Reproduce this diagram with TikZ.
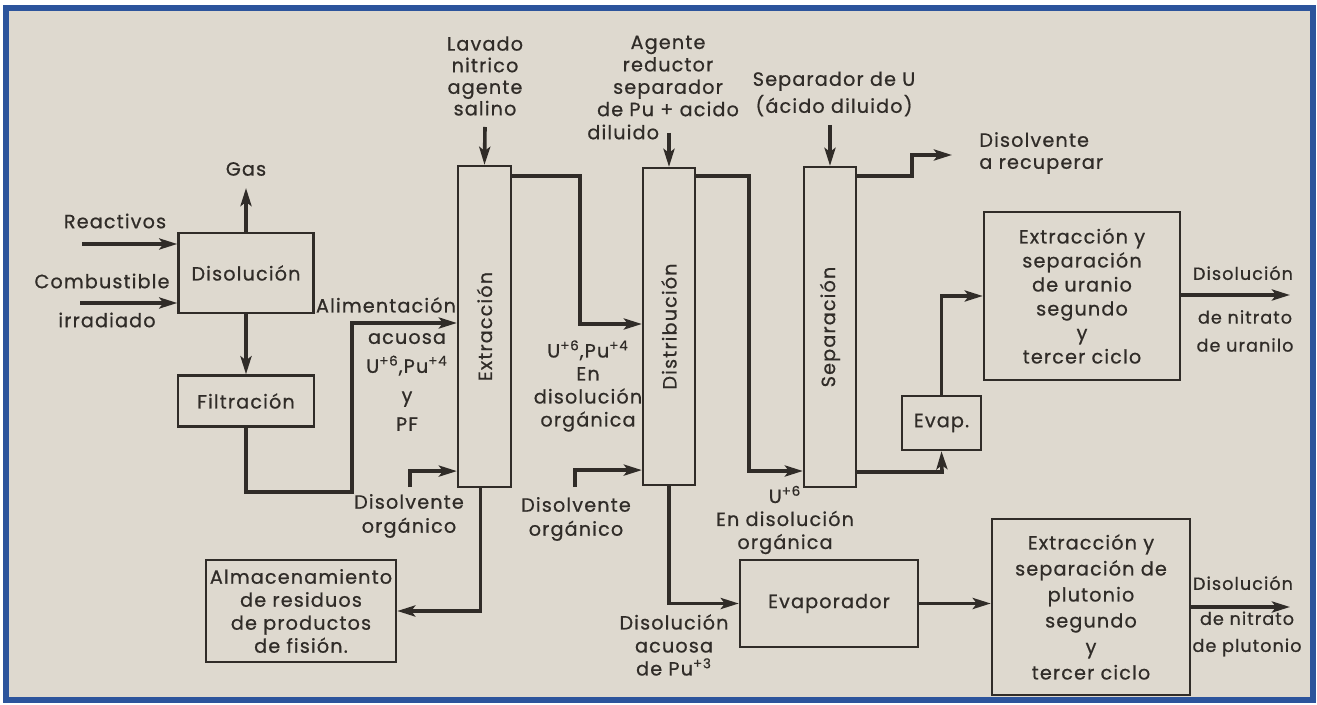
\documentclass[tikz,border=0pt]{standalone}
\usepackage{fontspec}
\setmainfont{Poppins}[LetterSpace=6,FakeBold=0.7]
\usetikzlibrary{arrows.meta}
\definecolor{ink}{RGB}{48,44,40}
\definecolor{paper}{RGB}{222,217,207}
\definecolor{frame}{RGB}{44,84,156}

\begin{document}
\begin{tikzpicture}[x=0.5pt,y=-0.5pt,
		txt/.style={text=ink,font=\fontsize{9.6}{11}\selectfont,align=center,inner sep=0pt},
		box/.style={draw=ink,line width=1.2pt,rectangle,inner sep=0pt,txt},
		col/.style={draw=ink,line width=1.1pt,rectangle,inner sep=0pt},
		flow/.style={draw=ink,line width=1.8pt,-{Stealth[length=9pt,width=5.5pt,inset=2pt]}}]
			%%%%% START %%%%%
			
			\useasboundingbox (0,0) rectangle (1317,705);
			\fill[white] (0,0) rectangle (1317,705);
			\fill[paper] (6,8) rectangle (1313,700);
			\draw[frame,line width=3pt] (6,8) rectangle (1313,700);
			
			% process boxes
			\node[box,minimum width=67.5pt,minimum height=40pt] (disol) at (246,273) {Disolución};
			\node[box,minimum width=68pt,minimum height=25.5pt] (filtr) at (246,401) {Filtración};
			\node[box,minimum width=95pt,minimum height=51pt,font=\fontsize{9.6}{11.5}\selectfont] (almac) at (301,611) {Almacenamiento\\de residuos\\de productos\\de fisión.};
			
			\node[col,minimum width=26.5pt,minimum height=160.5pt] (extr) at (484.5,326.5) {};
			\node[txt,rotate=90] (extrL) at (extr) {Extracción};
			\node[col,minimum width=26pt,minimum height=158.5pt] (dist) at (669,326.5) {};
			\node[txt,rotate=90] (distL) at (dist) {Distribución};
			\node[col,minimum width=26pt,minimum height=160pt] (sep) at (830,327) {};
			\node[txt,rotate=90] (sepL) at (sep) {Separación};
			
			\node[box,minimum width=39.5pt,minimum height=27pt] (evap) at (941.5,423) {Evap.};
			\node[box,minimum width=89pt,minimum height=43.5pt] (evapr) at (829,603.5) {Evaporador};
			\node[box,minimum width=98pt,minimum height=84pt,font=\fontsize{9.6}{12}\selectfont] (uran) at (1082,296) {Extracción y\\separación\\de uranio\\segundo\\y\\tercer ciclo};
			\node[box,minimum width=99pt,minimum height=88pt,font=\fontsize{9.6}{13}\selectfont] (pluto) at (1091,607) {Extracción y\\separación de\\plutonio\\segundo\\y\\tercer ciclo};
			
			% free ends
			\coordinate (reac) at (82,244);
			\coordinate (comb) at (80,303);
			\coordinate (gas) at (246,188);
			\coordinate (alim) at (352,323);
			\coordinate (lav) at (485,127);
			\coordinate (agen) at (669,133);
			\coordinate (sepU) at (830,125);
			\coordinate (t1) at (580,176);
			\coordinate (t2) at (580,324);
			\coordinate (t3) at (749,176);
			\coordinate (t4) at (749,471);
			\coordinate (t5) at (912,176);
			\coordinate (t6) at (912,155);
			\coordinate (rec) at (952,155);
			\coordinate (t7) at (942,472);
			\coordinate (d1) at (410,487);
			\coordinate (d2) at (575,487);
			\coordinate (outU) at (1290,295);
			\coordinate (outP) at (1290,607);
			
			% flows
			\draw[flow] (reac) -- (reac -| disol.west);
			\draw[flow] (comb) -- (comb -| disol.west);
			\draw[flow] (disol.north) -- (gas);
			\draw[flow] (disol.south) -- (filtr.north);
			\draw[flow] (filtr.south) -- ++(0,64) -| (alim) -- (alim -| extr.west);
			\draw[flow] (lav) -- (extr.north);
			\draw[flow] (d1) |- ([yshift=8.5pt]extr.south west);
			\draw[flow] ([xshift=-2pt]extr.south) |- (almac.east);
			\draw[flow] (extr.east |- t1) -- (t1) -- (t2) -- (t2 -| dist.west);
			\draw[flow] (agen) -- (dist.north);
			\draw[flow] (d2) |- ([yshift=8pt]dist.south west);
			\draw[flow] (dist.south) |- (evapr.west);
			\draw[flow] (dist.east |- t3) -- (t3) -- (t4) -- (t4 -| sep.west);
			\draw[flow] (sepU) -- (sep.north);
			\draw[flow] (sep.east |- t5) -- (t5) -- (t6) -- (rec);
			\draw[flow] (sep.east |- t7) -- (t7) -- (evap.south);
			\draw[flow] (evap.north) |- (uran.west);
			\draw[flow] (uran.east |- outU) -- (outU);
			\draw[flow] (evapr.east) -- (evapr.east -| pluto.west);
			\draw[flow] (pluto.east |- outP) -- (outP);
			
			% labels
			\node[txt] (gasL) at (246,169) {Gas};
			\node[txt] (reacL) at (115,221) {Reactivos};
			\node[txt] (combL) at (102,281) {Combustible};
			\node[txt] (irrL) at (107,320) {irradiado};
			\node[txt] (alimL) at (386,305) {Alimentación};
			\node[txt,font=\fontsize{9.6}{14.5}\selectfont] (alimL2) at (407,382) {acuosa\\U\textsuperscript{+6},Pu\textsuperscript{+4}\\y\\PF};
			\node[txt,font=\fontsize{9.6}{10.8}\selectfont] (lavL) at (485,76) {Lavado\\nitrico\\agente\\salino};
			\node[txt,font=\fontsize{9.6}{11.2}\selectfont] (agenL) at (668,76) {Agente\\reductor\\separador\\de Pu + acido};
			\node[txt,anchor=west] (dilL) at (587,132) {diluido};
			\node[txt,font=\fontsize{9.6}{13.5}\selectfont] (sepUL) at (834,94) {Separador de U\\(ácido diluido)};
			\node[txt,align=left,anchor=west] (recL) at (979,153) {Disolvente\\a recuperar};
			\node[txt,font=\fontsize{9.6}{11.5}\selectfont] (orgL) at (588,386) {U\textsuperscript{+6},Pu\textsuperscript{+4}\\En\\disolución\\orgánica};
			\node[txt,font=\fontsize{9.6}{11.5}\selectfont] (u6L) at (785,520) {U\textsuperscript{+6}\\En disolución\\orgánica};
			\node[txt,font=\fontsize{9.6}{11.5}\selectfont] (pu3L) at (674,645) {Disolución\\acuosa\\de Pu\textsuperscript{+3}};
			\node[txt,font=\fontsize{9.6}{12}\selectfont] (dis1L) at (409,516) {Disolvente\\orgánico};
			\node[txt,font=\fontsize{9.6}{12}\selectfont] (dis2L) at (576,519) {Disolvente\\orgánico};
			\node[txt,font=\fontsize{8.8}{10}\selectfont] (nitU1) at (1243,273) {Disolución};
			\node[txt,font=\fontsize{8.8}{14}\selectfont] (nitU2) at (1245,331) {de nitrato\\de uranilo};
			\node[txt,font=\fontsize{8.8}{10}\selectfont] (nitP1) at (1243,583) {Disolución};
			\node[txt,font=\fontsize{8.8}{13.5}\selectfont] (nitP2) at (1247,634) {de nitrato\\de plutonio};
			
			%%%%% END %%%%%
		\end{tikzpicture}
\end{document}
